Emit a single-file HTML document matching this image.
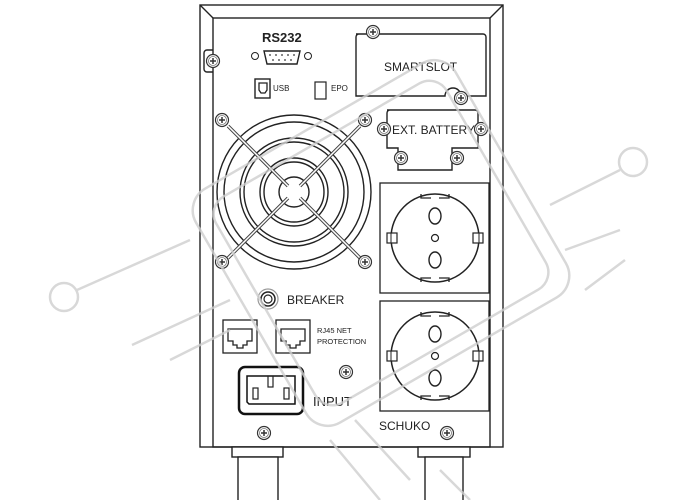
<!DOCTYPE html>
<html><head><meta charset="utf-8"><style>
html,body{margin:0;padding:0;background:#fff}
svg{display:block}
text{font-family:"Liberation Sans",sans-serif;fill:#222}
</style></head><body>
<svg width="700" height="500" viewBox="0 0 700 500" xmlns="http://www.w3.org/2000/svg">
<defs>
<g id="sc"><circle r="6.5" fill="#fff" stroke="#333" stroke-width="1.2"/><circle r="4.5" fill="none" stroke="#777" stroke-width="0.8"/><path d="M-3 0H3M0 -3V3" stroke="#333" stroke-width="1.5"/></g>
<g id="sock">
<rect x="-55" y="-55" width="109" height="110" fill="#fff" stroke="#222" stroke-width="1.3"/>
<circle r="44" fill="none" stroke="#222" stroke-width="1.5"/>
<path d="M-14 -44v4h10M14 -44v4h-10M-14 44v-4h10M14 44v-4h-10" fill="none" stroke="#222" stroke-width="1.3"/>
<rect x="-48" y="-5" width="10" height="10" fill="#fff" stroke="#222" stroke-width="1.2"/>
<rect x="38" y="-5" width="10" height="10" fill="#fff" stroke="#222" stroke-width="1.2"/>
<path d="M-44 -5v10M44 -5v10" stroke="#222"/>
<ellipse cx="0" cy="-22" rx="6" ry="8" fill="none" stroke="#222" stroke-width="1.4"/>
<ellipse cx="0" cy="22" rx="6" ry="8" fill="none" stroke="#222" stroke-width="1.4"/>
<circle r="3.5" fill="none" stroke="#222" stroke-width="1.2"/>
</g>
<g id="rj"><rect x="-17" y="-18" width="34" height="33" fill="#fff" stroke="#222" stroke-width="1.3"/><path d="M-12 -9h24v12h-5v4h-4v3h-6v-3h-4v-4h-5z" fill="none" stroke="#222" stroke-width="1.3"/></g>
</defs>

<g fill="none" stroke="#222" stroke-width="1.4">
<rect x="200" y="5" width="303" height="442" fill="#fff"/>
<rect x="213" y="18" width="277" height="429"/>
<path d="M200 5L213 18M503 5L490 18"/>
<rect x="232" y="447" width="51" height="10" fill="#fff"/>
<rect x="238" y="457" width="40" height="45" fill="#fff"/>
<rect x="418" y="447" width="52" height="10" fill="#fff"/>
<rect x="425" y="457" width="38" height="45" fill="#fff"/>
<path d="M213 50h-6a3 3 0 0 0-3 3v16a3 3 0 0 0 3 3h6"/>
</g>
<use href="#sc" x="213" y="61"/>

<text x="262" y="42" font-size="13" font-weight="bold" fill="#333">RS232</text>
<path d="M264 51h36l-3 13h-30z" fill="#fff" stroke="#222" stroke-width="1.4"/>
<g fill="#333"><circle cx="270" cy="55" r="0.9"/><circle cx="276" cy="55" r="0.9"/><circle cx="282" cy="55" r="0.9"/><circle cx="288" cy="55" r="0.9"/><circle cx="294" cy="55" r="0.9"/><circle cx="273" cy="60" r="0.9"/><circle cx="279" cy="60" r="0.9"/><circle cx="285" cy="60" r="0.9"/><circle cx="291" cy="60" r="0.9"/></g>
<circle cx="255" cy="56" r="3.5" fill="none" stroke="#222"/><circle cx="308" cy="56" r="3.5" fill="none" stroke="#222"/>
<rect x="255" y="79" width="15" height="19" fill="none" stroke="#222" stroke-width="1.4"/>
<path d="M259 83h8v7l-2 3h-4l-2-3z" fill="none" stroke="#222" stroke-width="1.3"/>
<text x="273" y="91" font-size="8" fill="#333">USB</text>
<rect x="315" y="82" width="11" height="17" fill="none" stroke="#222" stroke-width="1.2"/>
<text x="331" y="91" font-size="8" fill="#333">EPO</text>

<path d="M356 34h127a3 3 0 0 1 3 3v59h-25a8 8 0 0 0-16 0h-89v-59a3 3 0 0 1 3-3z" fill="#fff" stroke="#222" stroke-width="1.4"/>
<use href="#sc" x="373" y="32"/><use href="#sc" x="461" y="98"/>
<text x="384" y="71" font-size="12" fill="#222">SMARTSLOT</text>
<path d="M387 110h88a3 3 0 0 1 3 3v35h-26v22h-54v-22h-11v-35a3 3 0 0 1 3-3z" fill="#fff" stroke="#222" stroke-width="1.4"/>
<use href="#sc" x="384" y="129"/><use href="#sc" x="481" y="129"/>
<use href="#sc" x="401" y="158"/><use href="#sc" x="457" y="158"/>
<text x="392" y="134" font-size="12" fill="#222">EXT. BATTERY</text>

<g fill="none" stroke="#222" stroke-width="1.4">
<circle cx="294" cy="192" r="77"/>
<circle cx="294" cy="192" r="70"/>
<circle cx="294" cy="192" r="54"/>
<circle cx="294" cy="192" r="50"/>
<circle cx="294" cy="192" r="34"/>
<circle cx="294" cy="192" r="30"/>
<circle cx="294" cy="192" r="15"/>
</g>
<g fill="none" stroke="#444" stroke-width="3.5">
<path d="M228 126L288 186M360 126L300 186M228 258L288 198M360 258L300 198"/>
</g>
<g fill="none" stroke="#fff" stroke-width="1.5">
<path d="M228 126L288 186M360 126L300 186M228 258L288 198M360 258L300 198"/>
</g>
<use href="#sc" x="222" y="120"/><use href="#sc" x="365" y="120"/>
<use href="#sc" x="222" y="262"/><use href="#sc" x="365" y="262"/>

<circle cx="268" cy="299" r="10" fill="none" stroke="#999" stroke-width="1.2"/>
<circle cx="268" cy="299" r="7" fill="none" stroke="#222" stroke-width="1.5"/>
<circle cx="268" cy="299" r="4" fill="none" stroke="#222" stroke-width="1.2"/>
<text x="287" y="304" font-size="12" fill="#222">BREAKER</text>

<use href="#rj" x="240" y="338"/><use href="#rj" x="293" y="338"/>
<text x="317" y="333" font-size="7.5" fill="#222">RJ45 NET</text>
<text x="317" y="344" font-size="7.5" fill="#222">PROTECTION</text>
<use href="#sc" x="346" y="372"/>

<rect x="239" y="367" width="64" height="47" rx="6" fill="#fff" stroke="#111" stroke-width="2.5"/>
<path d="M247 376h48v28h-46l-2-2z" fill="none" stroke="#111" stroke-width="1.5"/>
<rect x="268" y="376" width="5" height="11" fill="none" stroke="#222" stroke-width="1.2"/>
<rect x="253" y="388" width="5" height="11" fill="none" stroke="#222" stroke-width="1.2"/>
<rect x="284" y="388" width="5" height="11" fill="none" stroke="#222" stroke-width="1.2"/>
<text x="313" y="406" font-size="13" fill="#222">INPUT</text>

<use href="#sock" x="435" y="238"/>
<use href="#sock" x="435" y="356"/>
<text x="379" y="430" font-size="12" fill="#222">SCHUKO</text>
<use href="#sc" x="264" y="433"/><use href="#sc" x="447" y="433"/>

<g fill="none" stroke="#cfcfcf" stroke-width="2.5" opacity="0.8">
<rect x="231" y="108" width="300" height="270" rx="25" transform="rotate(-30 381 243)"/>
<rect x="248" y="124" width="266" height="238" rx="20" transform="rotate(-30 381 243)"/>
<circle cx="64" cy="297" r="14"/><circle cx="633" cy="162" r="14"/>
<path d="M77 290L190 240M132 345L230 300M170 360L230 330M620 170L550 205M620 230L565 250M625 260L585 290M355 420L410 480M330 440L380 500M440 470L470 500"/>
</g>
</svg>
</body></html>
